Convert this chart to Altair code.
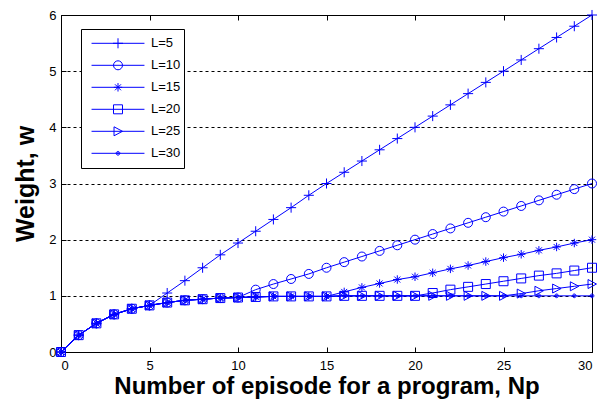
import altair as alt
import pandas as pd

np_values = list(range(31))
labels = ["L=5", "L=10", "L=15", "L=20", "L=25", "L=30"]

w_L5 = [0.00, 0.30, 0.51, 0.67, 0.77, 0.83, 1.05, 1.27, 1.50, 1.73, 1.94, 2.15, 2.36, 2.57, 2.79, 3.00,
        3.20, 3.40, 3.60, 3.80, 4.00, 4.20, 4.40, 4.60, 4.80, 5.00, 5.20, 5.40, 5.60, 5.80, 6.00]
w_L10 = [0.00, 0.30, 0.51, 0.67, 0.77, 0.83, 0.88, 0.92, 0.94, 0.96, 0.97, 1.11, 1.21, 1.30, 1.39, 1.50,
         1.60, 1.70, 1.80, 1.90, 2.00, 2.10, 2.20, 2.30, 2.40, 2.50, 2.60, 2.70, 2.80, 2.90, 3.00]
w_L15 = [0.00, 0.30, 0.51, 0.67, 0.77, 0.83, 0.88, 0.92, 0.94, 0.96, 0.97, 0.98, 0.99, 0.99, 0.99, 0.99,
         1.07, 1.15, 1.22, 1.29, 1.34, 1.41, 1.48, 1.54, 1.61, 1.68, 1.74, 1.81, 1.87, 1.94, 2.00]
w_L20 = [0.00, 0.30, 0.51, 0.67, 0.77, 0.83, 0.88, 0.92, 0.94, 0.96, 0.97, 0.98, 0.99, 0.99, 0.99, 0.99,
         1.00, 1.00, 1.00, 1.00, 1.00, 1.05, 1.11, 1.16, 1.21, 1.26, 1.31, 1.36, 1.40, 1.45, 1.50]
w_L25 = [0.00, 0.30, 0.51, 0.67, 0.77, 0.83, 0.88, 0.92, 0.94, 0.96, 0.97, 0.98, 0.99, 0.99, 0.99, 0.99,
         1.00, 1.00, 1.00, 1.00, 1.00, 1.00, 1.00, 1.00, 1.00, 1.00, 1.04, 1.09, 1.13, 1.17, 1.21]
w_L30 = [0.00, 0.30, 0.51, 0.67, 0.77, 0.83, 0.88, 0.92, 0.94, 0.96, 0.97, 0.98, 0.99, 0.99, 0.99, 0.99,
         1.00, 1.00, 1.00, 1.00, 1.00, 1.00, 1.00, 1.00, 1.00, 1.00, 1.00, 1.00, 1.00, 1.00, 1.00]

x_ticks = [0, 5, 10, 15, 20, 25, 30]
y_ticks = [0, 1, 2, 3, 4, 5, 6]

series = [w_L5, w_L10, w_L15, w_L20, w_L25, w_L30]
rows = []
for lab, ws in zip(labels, series):
    for n, w in zip(np_values, ws):
        rows.append({"Np": n, "w": w, "L": lab, "Lp": lab})
df = pd.DataFrame(rows)

BLUE = "#0000ff"
FONT = "Liberation Sans"

marker_paths = [
    "M-0.19,0H0.19M0,-0.19V0.19",
    "M0.17,0A0.17,0.17,0,1,1,-0.17,0A0.17,0.17,0,1,1,0.17,0Z",
    "M-0.16,0H0.16M0,-0.16V0.16M-0.113,-0.113L0.113,0.113M-0.113,0.113L0.113,-0.113",
    "M-0.17,-0.17H0.17V0.17H-0.17Z",
    "M-0.15,-0.17L0.17,0L-0.15,0.17Z",
    "M0.07,0A0.07,0.07,0,1,1,-0.07,0A0.07,0.07,0,1,1,0.07,0ZM0.03,0A0.03,0.03,0,1,1,-0.03,0A0.03,0.03,0,1,1,0.03,0Z",
]

SYM = 2800
legend_common = dict(
    title=None, orient="none", legendX=20, legendY=14,
    symbolSize=SYM, symbolStrokeWidth=1, clipHeight=21.6, rowPadding=0,
    padding=3.5, symbolOffset=6.5, labelOffset=6,
    labelFont=FONT, labelFontSize=13, labelColor="black",
    labelExpr="datum.label + '    '",
)

xscale = alt.Scale(domain=[0, 30], nice=False, zero=False)
yscale = alt.Scale(domain=[0, 6], nice=False, zero=False)

lines = alt.Chart(df).mark_line(strokeWidth=1, clip=False).encode(
    x=alt.X("Np:Q", scale=xscale, axis=alt.Axis(
        orient="bottom", values=x_ticks, offset=-5, tickSize=5, domain=False, grid=False,
        labelPadding=7, title="Number of episode for a program, Np", titlePadding=2,
        titleFontSize=24)),
    y=alt.Y("w:Q", scale=yscale, axis=alt.Axis(
        orient="left", values=y_ticks, offset=-5, tickSize=5, domain=False, grid=True,
        gridDash=[3, 3], gridColor="black", gridOpacity=1, gridWidth=1,
        labelPadding=5, title="Weight, w", titlePadding=10)),
    stroke=alt.Stroke("L:N", scale=alt.Scale(domain=labels, range=[BLUE] * 6),
                      legend=alt.Legend(symbolType="stroke", strokeColor="black", fillColor="white",
                                        zindex=1, **legend_common)),
    order="Np:Q",
)

points = alt.Chart(df).mark_point(filled=False, size=SYM, opacity=1, strokeWidth=1, color=BLUE, clip=False).encode(
    x=alt.X("Np:Q", axis=alt.Axis(orient="top", values=x_ticks, offset=-5, tickSize=5, labels=False,
                                  domain=False, grid=False, title=None)),
    y=alt.Y("w:Q", axis=alt.Axis(orient="right", values=y_ticks, offset=-5, tickSize=5, labels=False,
                                 domain=False, grid=False, title=None)),
    shape=alt.Shape("Lp:N", sort=labels, scale=alt.Scale(range=marker_paths),
                    legend=alt.Legend(symbolStrokeColor=BLUE, symbolFillColor="transparent",
                                      labelOpacity=0, zindex=2, **legend_common)),
)

chart = alt.layer(lines, points).properties(
    width=531, height=337, autosize="none",
    padding={"left": 53, "top": 7, "right": 10, "bottom": 47},
).configure_view(stroke="black", strokeWidth=1).configure_axis(
    labelFont=FONT, labelFontSize=13, labelColor="black",
    titleFont=FONT, titleFontSize=25, titleFontWeight="bold", titleColor="black",
    tickColor="black", tickWidth=1,
)

chart.save("out.html", embed_options={"renderer": "svg", "actions": False})
